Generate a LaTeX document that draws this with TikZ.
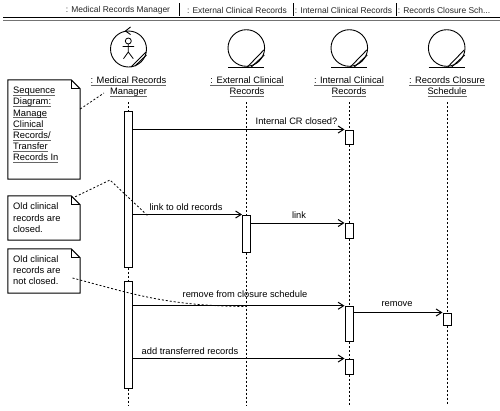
\documentclass[tikz,border=0pt]{standalone}
\usepackage{fontspec}
\setmainfont{Liberation Sans}
\usetikzlibrary{positioning,arrows.meta,calc}
\tikzset{
  hdr/.style   = {font=\fontsize{8.45}{11}\selectfont, inner sep=0pt, text=black!85},
  lbl/.style   = {font=\fontsize{9.3}{11}\selectfont, inner sep=1pt},
  obj/.style   = {font=\fontsize{9.35}{11.2}\selectfont, align=center, inner sep=0pt},
  notebox/.style = {minimum width=72pt, inner sep=0pt},
  notetext/.style = {font=\fontsize{9.35}{11.2}\selectfont, align=left, inner sep=0pt, anchor=north west},
  bar/.style   = {draw, fill=white, line width=1pt, minimum width=8pt, inner sep=0pt},
  ar/.style    = {-{Straight Barb[length=5.5pt,width=7pt]}, line width=1pt},
  life/.style  = {line width=0.8pt, dash pattern=on 2pt off 2pt},
  link/.style  = {line width=0.8pt, dash pattern=on 2pt off 2pt},
  entity/.pic  = {
    \draw[line width=0.9pt] (0,0) circle (18.3);
    \draw[line width=0.9pt] (-18,19) -- (18,19);
    \draw[line width=0.9pt] (1,19) -- (17.5,2);
    \draw[line width=0.9pt] (5,19) -- (18,7);
  },
}
\newcommand{\ulbox}[1]{\leavevmode\setbox0\hbox{#1}\rlap{\textcolor{black!60}{\rule[-2.2pt]{\wd0}{0.9pt}}}\box0}
\begin{document}
\begin{tikzpicture}[x=1pt,y=-1pt]
  \useasboundingbox (0,0) rectangle (500,410);

  % --- header strip ---
  \node[hdr] (hmgr) at (118,10) {: Medical Records Manager};
  \node[hdr] (hext) at (237,10) {: External Clinical Records};
  \node[hdr] (hint) at (343.5,10) {: Internal Clinical Records};
  \node[hdr] (hcls) at (444,10) {: Records Closure Sch...};
  \foreach \sx in {179,293,396}
    \draw[line width=0.7pt] (\sx,3) -- (\sx,16);
  \draw[line width=0.8pt] (3,17.5) -- (500,17.5);
  \draw[line width=0.8pt, black!55] (3,20) -- (500,20);

  % --- object heads ---
  \draw[line width=0.9pt] (128.5,49) circle (18);
  \draw[line width=0.9pt] (131,67) -- (146,52);
  \draw[line width=0.9pt] (135,66) -- (146.5,55);
  \draw[line width=0.9pt] (130.5,27) -- (125.5,31) -- (130.5,34.5);
  \draw[line width=0.8pt] (128.3,41) circle (3);
  \draw[line width=0.8pt] (128.3,44) -- (128.3,52) (122.5,46.5) -- (134,46.5)
        (123.5,58.7) -- (128.3,52) -- (133.3,58.7);
  \pic at (246.3,48) {entity};
  \pic at (349.3,48) {entity};
  \pic at (446.7,48) {entity};

  \node[obj] (omgr) at (128.5,87) {\ulbox{: Medical Records}\\\ulbox{Manager}};
  \node[obj] (oext) at (247,87) {\ulbox{: External Clinical}\\\ulbox{Records}};
  \node[obj] (oint) at (349,87) {\ulbox{: Internal Clinical}\\\ulbox{Records}};
  \node[obj] (ocls) at (447,87) {\ulbox{: Records Closure}\\\ulbox{Schedule}};

  % --- activation bars ---
  \node[bar, minimum height=156pt] (mgrbarA) at (128,189) {};
  \node[bar, minimum height=106.5pt] (mgrbarB) at (128,334.75) {};
  \node[bar, minimum height=37pt] (extbar) at (246.5,233.5) {};
  \node[bar, minimum height=14.5pt] (intbarA) at (349,137.25) {};
  \node[bar, minimum height=14.5pt] (intbarB) at (349,230.75) {};
  \node[bar, minimum height=35.5pt] (intbarC) at (349,324) {};
  \node[bar, minimum height=15pt] (intbarD) at (349,366.5) {};
  \node[bar, minimum height=12pt] (clsbar) at (447,319) {};

  % --- life lines ---
  \coordinate (mgrtop) at (128,102);
  \coordinate (exttop) at (246.5,102);
  \coordinate (inttop) at (349,102);
  \coordinate (clstop) at (447,102);
  \coordinate (mgrend) at (128,405);
  \coordinate (extend) at (246.5,405);
  \coordinate (intend) at (349,405);
  \coordinate (clsend) at (447,405);
  \draw[life] (mgrtop) -- (mgrbarA) (mgrbarA) -- (mgrbarB) (mgrbarB) -- (mgrend);
  \draw[life] (exttop) -- (extbar) (extbar) -- (extend);
  \draw[life] (inttop) -- (intbarA) (intbarA) -- (intbarB) (intbarB) -- (intbarC)
        (intbarC) -- (intbarD) (intbarD) -- (intend);
  \draw[life] (clstop) -- (clsbar) (clsbar) -- (clsend);

  % --- messages ---
  \draw[ar] (mgrbarA.east |- intbarA.north) -- (intbarA.north west);
  \draw[ar] (mgrbarA.east |- extbar.north) -- (extbar.north west);
  \draw[ar] (extbar.east |- intbarB.north) -- (intbarB.north west);
  \draw[ar] (mgrbarB.east |- intbarC.north) -- (intbarC.north west);
  \draw[ar] (intbarC.east |- clsbar.north) -- (clsbar.north west);
  \draw[ar] (mgrbarB.east |- intbarD.north) -- (intbarD.north west);
  \node[lbl] (m1) at (296.5,121) {Internal CR closed?};
  \node[lbl] (m2) at (186,207) {link to old records};
  \node[lbl] (m3) at (299,215.5) {link};
  \node[lbl] (m4) at (245,294.5) {remove from closure schedule};
  \node[lbl] (m5) at (397,304.5) {remove};
  \node[lbl] (m6) at (190,351) {add transferred records};

  % --- notes ---
  \node[notebox, minimum height=99pt] (noteA) at (44,129.5) {};
  \node[notebox, minimum height=44pt] (noteB) at (44,218) {};
  \node[notebox, minimum height=44pt] (noteC) at (44,271) {};
  \foreach \nn in {noteA,noteB,noteC} {
    \draw[fill=white, line width=1pt] (\nn.north west) -- ($(\nn.north east)+(-9,0)$)
        -- ($(\nn.north east)+(0,9)$) -- (\nn.south east) -- (\nn.south west) -- cycle;
    \draw[line width=0.8pt] ($(\nn.north east)+(-9,0)$) -- ($(\nn.north east)+(-9,9)$)
        -- ($(\nn.north east)+(0,9)$);
  }
  \node[notetext] (tA) at (13,87) {\ulbox{Sequence}\\\ulbox{Diagram:}\\\ulbox{Manage}\\\ulbox{Clinical}\\\ulbox{Records/}\\\ulbox{Transfer}\\\ulbox{Records In}};
  \node[notetext] (tB) at (13,203) {Old clinical\\records are\\closed.};
  \node[notetext] (tC) at (13,255.5) {Old clinical\\records are\\not closed.};

  % --- note links ---
  \coordinate (aimA) at (104,93);
  \coordinate (bendB) at (110,180);
  \coordinate (aimB) at (148,216);
  \coordinate (aimC) at (246.5,306.5);
  \draw[link] (noteA.east |- 0,109) -- (aimA);
  \draw[link] ($(noteB.north east)+(-5,1)$) -- (bendB) -- (aimB);
  \draw[link] (72.5,278) .. controls (130,293) and (165,306) .. (aimC);
\end{tikzpicture}
\end{document}
